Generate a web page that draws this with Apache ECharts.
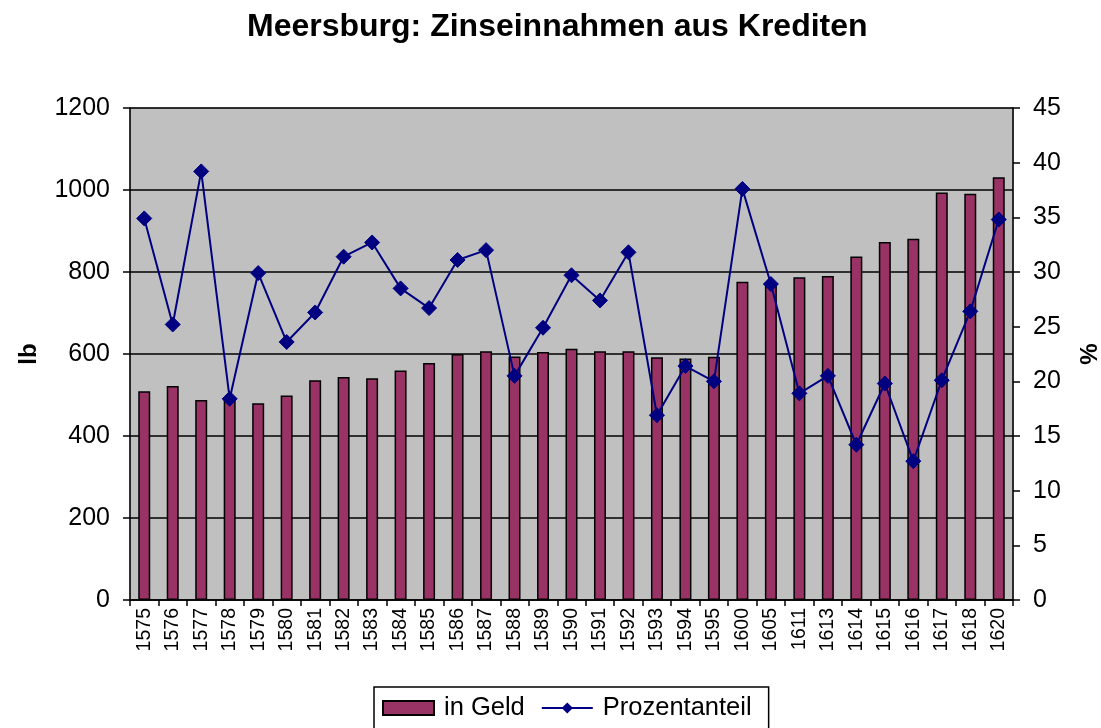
<!DOCTYPE html>
<html>
<head>
<meta charset="utf-8">
<script src="https://cdn.jsdelivr.net/npm/echarts@6/dist/echarts.min.js"></script>
<style>
html,body{margin:0;padding:0;background:#fff;}
#chart{width:1101px;height:728px;}
</style>
</head>
<body>
<div id="chart"></div>
<script>
const years = ['1575','1576','1577','1578','1579','1580','1581','1582','1583','1584','1585','1586','1587','1588','1589','1590','1591','1592','1593','1594','1595','1600','1605','1611','1613','1614','1615','1616','1617','1618','1620'];
const inGeld = [509,522,488,495,480,499,536,544,541,560,578,600,607,594,605,613,607,607,592,589,593,776,773,787,790,838,873,881,994,991,1031];
const prozentanteil = [34.9,25.2,39.2,18.4,29.9,23.6,26.3,31.4,32.7,28.5,26.7,31.1,32.0,20.5,24.9,29.7,27.4,31.8,16.9,21.4,20.0,37.6,28.9,18.9,20.5,14.2,19.8,12.7,20.1,26.4,34.8];
const titleText = 'Meersburg: Zinseinnahmen aus Krediten';
const leftAxisName = 'lb';
const rightAxisName = '%';

const FONT = '"Liberation Sans", Arial, sans-serif';
const chart = echarts.init(document.getElementById('chart'), null, {renderer: 'canvas'});
chart.setOption({
  animation: false,
  backgroundColor: '#ffffff',
  textStyle: {fontFamily: FONT, color: '#000'},
  title: {
    text: titleText,
    left: 242,
    top: 6,
    textStyle: {fontFamily: FONT, fontSize: 32, fontWeight: 'bold', color: '#000'}
  },
  grid: {
    left: 130, right: 88, top: 108, bottom: 128,
    containLabel: false,
    outerBoundsMode: 'none',
    show: true, backgroundColor: '#C0C0C0', borderColor: '#808080', borderWidth: 1
  },
  legend: {
    left: 374, top: 687,
    padding: [8, 17, 20, 8],
    borderColor: '#000', borderWidth: 1.5,
    itemWidth: 51, itemHeight: 14, itemGap: 16,
    textStyle: {fontFamily: FONT, fontSize: 25.5, color: '#000', padding: [0, 0, 0, 5]},
    data: [
      {name: 'in Geld', icon: 'rect'},
      {name: 'Prozentanteil'}
    ]
  },
  xAxis: {
    type: 'category',
    data: years,
    boundaryGap: true,
    axisLine: {lineStyle: {color: '#000', width: 1.5}},
    axisTick: {show: true, length: 6, lineStyle: {color: '#000', width: 1.5}},
    axisLabel: {rotate: 90, fontSize: 19.5, color: '#000', margin: 8, fontFamily: FONT, interval: 0}
  },
  yAxis: [
    {
      type: 'value', min: 0, max: 1200, interval: 200,
      name: leftAxisName, nameLocation: 'middle', nameRotate: 90, nameGap: 89,
      nameTextStyle: {fontFamily: FONT, fontSize: 24, fontWeight: 'bold', color: '#000'},
      axisLine: {show: true, lineStyle: {color: '#000', width: 1.5}},
      axisTick: {show: true, length: 7, lineStyle: {color: '#000', width: 1.5}},
      axisLabel: {fontSize: 25, color: '#000', margin: 20, fontFamily: FONT, formatter: function (v) { return String(v); }},
      splitLine: {show: true, lineStyle: {color: '#000', width: 1.5}}
    },
    {
      type: 'value', min: 0, max: 45, interval: 5, position: 'right',
      name: rightAxisName, nameLocation: 'middle', nameRotate: 90, nameGap: 65,
      nameTextStyle: {fontFamily: FONT, fontSize: 24, fontWeight: 'bold', color: '#000'},
      axisLine: {show: true, lineStyle: {color: '#000', width: 1.5}},
      axisTick: {show: true, length: 7, lineStyle: {color: '#000', width: 1.5}},
      axisLabel: {fontSize: 25, color: '#000', margin: 20, fontFamily: FONT, formatter: function (v) { return String(v); }},
      splitLine: {show: false}
    }
  ],
  series: [
    {
      name: 'in Geld', type: 'bar', yAxisIndex: 0, data: inGeld,
      barWidth: 12,
      itemStyle: {color: '#993366', borderColor: '#000', borderWidth: 1.5}
    },
    {
      name: 'Prozentanteil', type: 'line', yAxisIndex: 1, data: prozentanteil,
      symbol: 'diamond', symbolSize: 15,
      lineStyle: {color: '#000080', width: 2},
      itemStyle: {color: '#000080', borderColor: '#000080'}
    }
  ]
});
</script>
</body>
</html>
